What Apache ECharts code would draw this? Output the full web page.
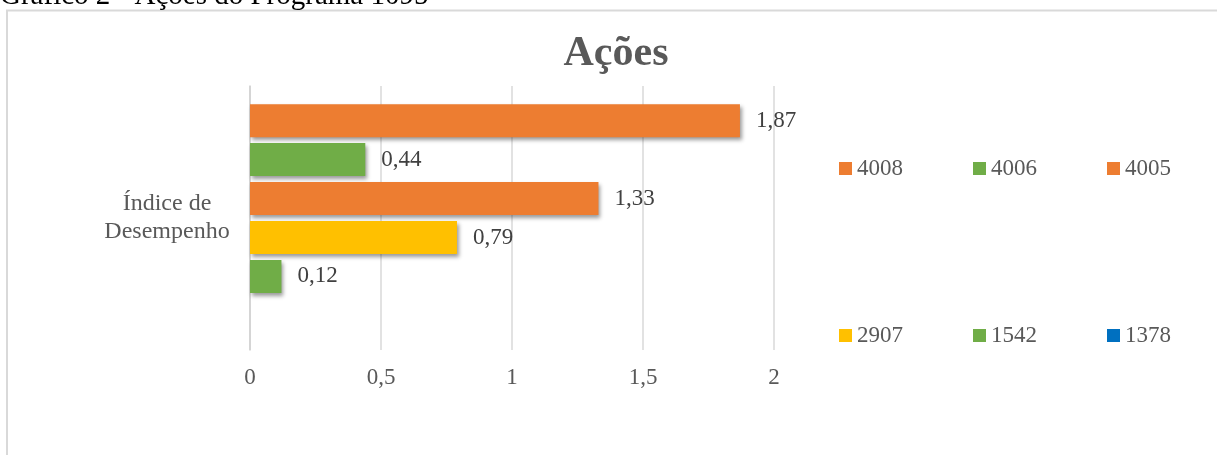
<!DOCTYPE html>
<html>
<head>
<meta charset="utf-8">
<script src="https://cdn.jsdelivr.net/npm/echarts@6/dist/echarts.min.js"></script>
<style>
  html, body { margin: 0; padding: 0; background: #fff; }
  #chart { width: 1217px; height: 455px; }
</style>
</head>
<body>
<div id="chart"></div>
<script>
// dados do gráfico
const categories = ['Índice de\nDesempenho'];
const seriesNames = ['4008', '4006', '4005', '2907', '1542', '1378'];
const seriesValues = [1.87, 0.44, 1.33, 0.79, 0.12, '-'];
const xTicks = [0, 0.5, 1, 1.5, 2];
const legendRow1 = ['4008', '4006', '4005'];
const legendRow2 = ['2907', '1542', '1378'];

const colors = ['#ED7D31', '#70AD47', '#ED7D31', '#FFC000', '#70AD47', '#0070C0'];
const font = '"Liberation Serif", "Times New Roman", serif';
const comma = v => String(v).replace('.', ',');

const series = seriesNames.map((name, i) => ({
    name: name,
    type: 'bar',
    data: [seriesValues[i]],
    barWidth: 33,
    barGap: '18%',
    itemStyle: {
        color: colors[i],
        shadowColor: 'rgba(0,0,0,0.4)',
        shadowBlur: 4,
        shadowOffsetX: 2,
        shadowOffsetY: 3
    },
    label: {
        show: true,
        position: 'right',
        distance: 16,
        color: '#404040',
        fontFamily: font,
        fontSize: 23,
        formatter: p => comma(p.value)
    }
}));

const legendBase = {
    left: 839,
    padding: 0,
    orient: 'horizontal',
    icon: 'rect',
    itemWidth: 13,
    itemHeight: 13,
    itemGap: 70,
    selectedMode: false,
    textStyle: { color: '#595959', fontFamily: font, fontSize: 23 }
};

const chart = echarts.init(document.getElementById('chart'));
chart.setOption({
    animation: false,
    backgroundColor: '#fff',
    color: colors,
    title: {
        text: 'Ações',
        left: 616,
        textAlign: 'center',
        top: 33,
        padding: 0,
        textStyle: { color: '#595959', fontFamily: font, fontSize: 42, fontWeight: 'bold' }
    },
    graphic: [
        {
            type: 'rect',
            shape: { x: 7, y: 10.5, width: 1240, height: 480 },
            style: { fill: 'none', stroke: '#d9d9d9', lineWidth: 2 },
            z: -1
        },
        {
            type: 'text',
            x: 0,
            y: -4,
            style: {
                text: 'Gráfico 2 - Ações do Programa 1095',
                fill: '#000',
                font: '29px ' + font,
                verticalAlign: 'middle'
            }
        }
    ],
    legend: [
        Object.assign({}, legendBase, { top: 157, data: legendRow1 }),
        Object.assign({}, legendBase, { top: 324, data: legendRow2 })
    ],
    grid: { left: 250, right: 443, top: 86, bottom: 105, containLabel: false },
    xAxis: {
        type: 'value',
        min: xTicks[0],
        max: xTicks[xTicks.length - 1],
        interval: 0.5,
        axisLine: { show: false },
        axisTick: { show: false },
        splitLine: { lineStyle: { color: '#d9d9d9', width: 1.5 } },
        axisLabel: {
            margin: 16,
            color: '#595959',
            fontFamily: font,
            fontSize: 23,
            formatter: v => comma(v)
        }
    },
    yAxis: {
        type: 'category',
        inverse: true,
        data: categories,
        axisTick: { show: false },
        axisLine: { lineStyle: { color: '#d0d0d0', width: 1.5 } },
        axisLabel: {
            margin: 83,
            align: 'center',
            color: '#595959',
            fontFamily: font,
            fontSize: 24,
            lineHeight: 28
        }
    },
    series: series
});
</script>
</body>
</html>
